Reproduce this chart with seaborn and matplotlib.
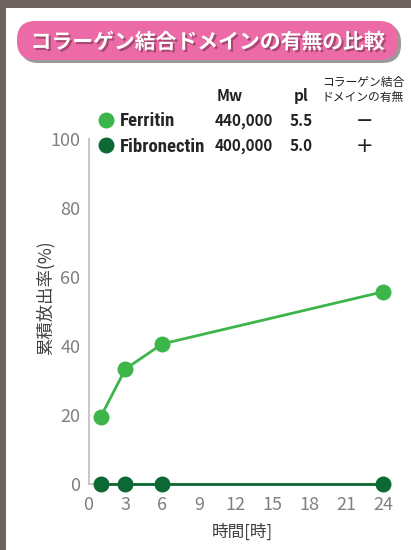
import matplotlib
matplotlib.use("Agg")
import matplotlib.pyplot as plt
import matplotlib.patheffects as pe
from matplotlib.patches import FancyBboxPatch, Rectangle
from matplotlib.lines import Line2D
import matplotlib.font_manager as fm
import seaborn as sns
import pandas as pd

# ---- data ----
times = [1, 3, 6, 24]
ferritin = [19.5, 33.3, 40.6, 55.7]
fibronectin = [0, 0, 0, 0]
proteins = ["Ferritin", "Fibronectin"]
mw = ["440,000", "400,000"]
pi_vals = ["5.5", "5.0"]
collagen = ["−", "+"]
colors = ["#3cb64a", "#0d6934"]
xticks = [0, 3, 6, 9, 12, 15, 18, 21, 24]
yticks = [0, 20, 40, 60, 80, 100]
title = "コラーゲン結合ドメインの有無の比較"
ylabel = "累積放出率(%)"
xlabel = "時間[時]"

df = pd.DataFrame({
    "time": times * 2,
    "release": ferritin + fibronectin,
    "protein": [proteins[0]] * len(times) + [proteins[1]] * len(times),
})

sns.set_theme(style="white")
plt.rcParams["font.family"] = ["Noto Sans CJK JP", "DejaVu Sans"]

names = {f.name for f in fm.fontManager.ttflist}
narrow = next((n for n in ["Liberation Sans Narrow", "Roboto Condensed",
                           "Open Sans Condensed"] if n in names), None)
if narrow:
    leg_prop = {"family": narrow, "weight": "bold", "size": 13.5}
else:
    leg_prop = {"family": "Noto Sans", "weight": "bold", "size": 11}

W, H = 411, 550
fig = plt.figure(figsize=(W / 100, H / 100), dpi=100)
fig.patch.set_facecolor("white")

def fx(px):
    return px / W

def fy(py):
    return 1 - py / H

ax = fig.add_axes([fx(88.5), fy(484), fx(383) - fx(88.5), fy(139) - fy(484)])
ax.set_facecolor("none")

sns.lineplot(data=df, x="time", y="release", hue="protein", palette=colors,
             marker="o", markersize=11.5, markeredgewidth=0, linewidth=2,
             legend=False, ax=ax, clip_on=False, zorder=3)

ax.set_xlim(0, 24)
ax.set_ylim(0, 100)
ax.set_xticks(xticks)
ax.set_yticks(yticks)
for s in ["top", "right"]:
    ax.spines[s].set_visible(False)
for s in ["left", "bottom"]:
    ax.spines[s].set_color("#c8c8c8")
    ax.spines[s].set_linewidth(1.5)
ax.tick_params(axis="both", direction="in", length=4, width=1.2, color="#c8c8c8",
               labelcolor="#808080", labelsize=13)
ax.tick_params(axis="x", pad=9)
ax.tick_params(axis="y", pad=6)
ax.set_xlabel("")
ax.set_ylabel("")

fig.text(fx(45), fy(298), ylabel, rotation=90, ha="center", va="center",
         fontsize=12.5, color="#404040")
fig.text(fx(242), fy(532), xlabel, ha="center", va="center",
         fontsize=12, color="#404040")

# frame
fig.add_artist(Rectangle((0, 0), fx(6), 1, transform=fig.transFigure,
                         facecolor="#6c635e", edgecolor="none", zorder=0))
fig.add_artist(Rectangle((0, fy(8)), 1, 1 - fy(8), transform=fig.transFigure,
                         facecolor="#6c635e", edgecolor="none", zorder=0))

# title box
bx0, bx1, by0, by1 = 17, 398, 21, 60
shadow = FancyBboxPatch((fx(bx0 + 3), fy(by1 + 3)), fx(bx1 - bx0), fy(by0) - fy(by1),
                        boxstyle="round,pad=0,rounding_size=0.045",
                        transform=fig.transFigure, facecolor="#9a9a9a",
                        edgecolor="none", mutation_aspect=W / H, zorder=1)
fig.add_artist(shadow)
box = FancyBboxPatch((fx(bx0), fy(by1)), fx(bx1 - bx0), fy(by0) - fy(by1),
                     boxstyle="round,pad=0,rounding_size=0.045",
                     transform=fig.transFigure, facecolor="#ec6ba6",
                     edgecolor="none", mutation_aspect=W / H, zorder=2)
fig.add_artist(box)
fig.text(fx(208), fy(42), title, ha="center", va="center", fontsize=15,
         fontweight="bold", color="white", zorder=3,
         path_effects=[pe.withSimplePatchShadow(offset=(1.5, -1.5),
                                                 shadow_rgbFace="#7a3050", alpha=0.6)])

# legend / table
handles = [Line2D([], [], marker="o", linestyle="none", color=c,
                  markersize=11.5, markeredgewidth=0) for c in colors]
ax.legend(handles, proteins, loc="upper left",
          bbox_to_anchor=(fx(98.5), fy(112.5)), bbox_transform=fig.transFigure,
          frameon=False, borderpad=0, borderaxespad=0, handlelength=0.75,
          handletextpad=0.4, labelspacing=0.4, prop=leg_prop)

fig.text(fx(230), fy(96), "Mw", ha="center", va="center", fontsize=11,
         fontweight="bold", color="#222222")
fig.text(fx(301), fy(96), "pl", ha="center", va="center", fontsize=11,
         fontweight="bold", color="#222222")
fig.text(fx(363), fy(82), "コラーゲン結合", ha="center", va="center", fontsize=8.5,
         color="#222222")
fig.text(fx(363), fy(97), "ドメインの有無", ha="center", va="center", fontsize=8.5,
         color="#222222")
rows_y = [121, 146]
for i in range(len(proteins)):
    fig.text(fx(244), fy(rows_y[i]), mw[i], ha="center", va="center",
             fontsize=11, fontweight="bold", color="#222222")
    fig.text(fx(301), fy(rows_y[i]), pi_vals[i], ha="center", va="center",
             fontsize=11, fontweight="bold", color="#222222")
    fig.text(fx(365), fy(rows_y[i]), collagen[i], ha="center", va="center",
             fontsize=15, color="#222222", family="DejaVu Sans")

fig.savefig("out.png", dpi=100)
